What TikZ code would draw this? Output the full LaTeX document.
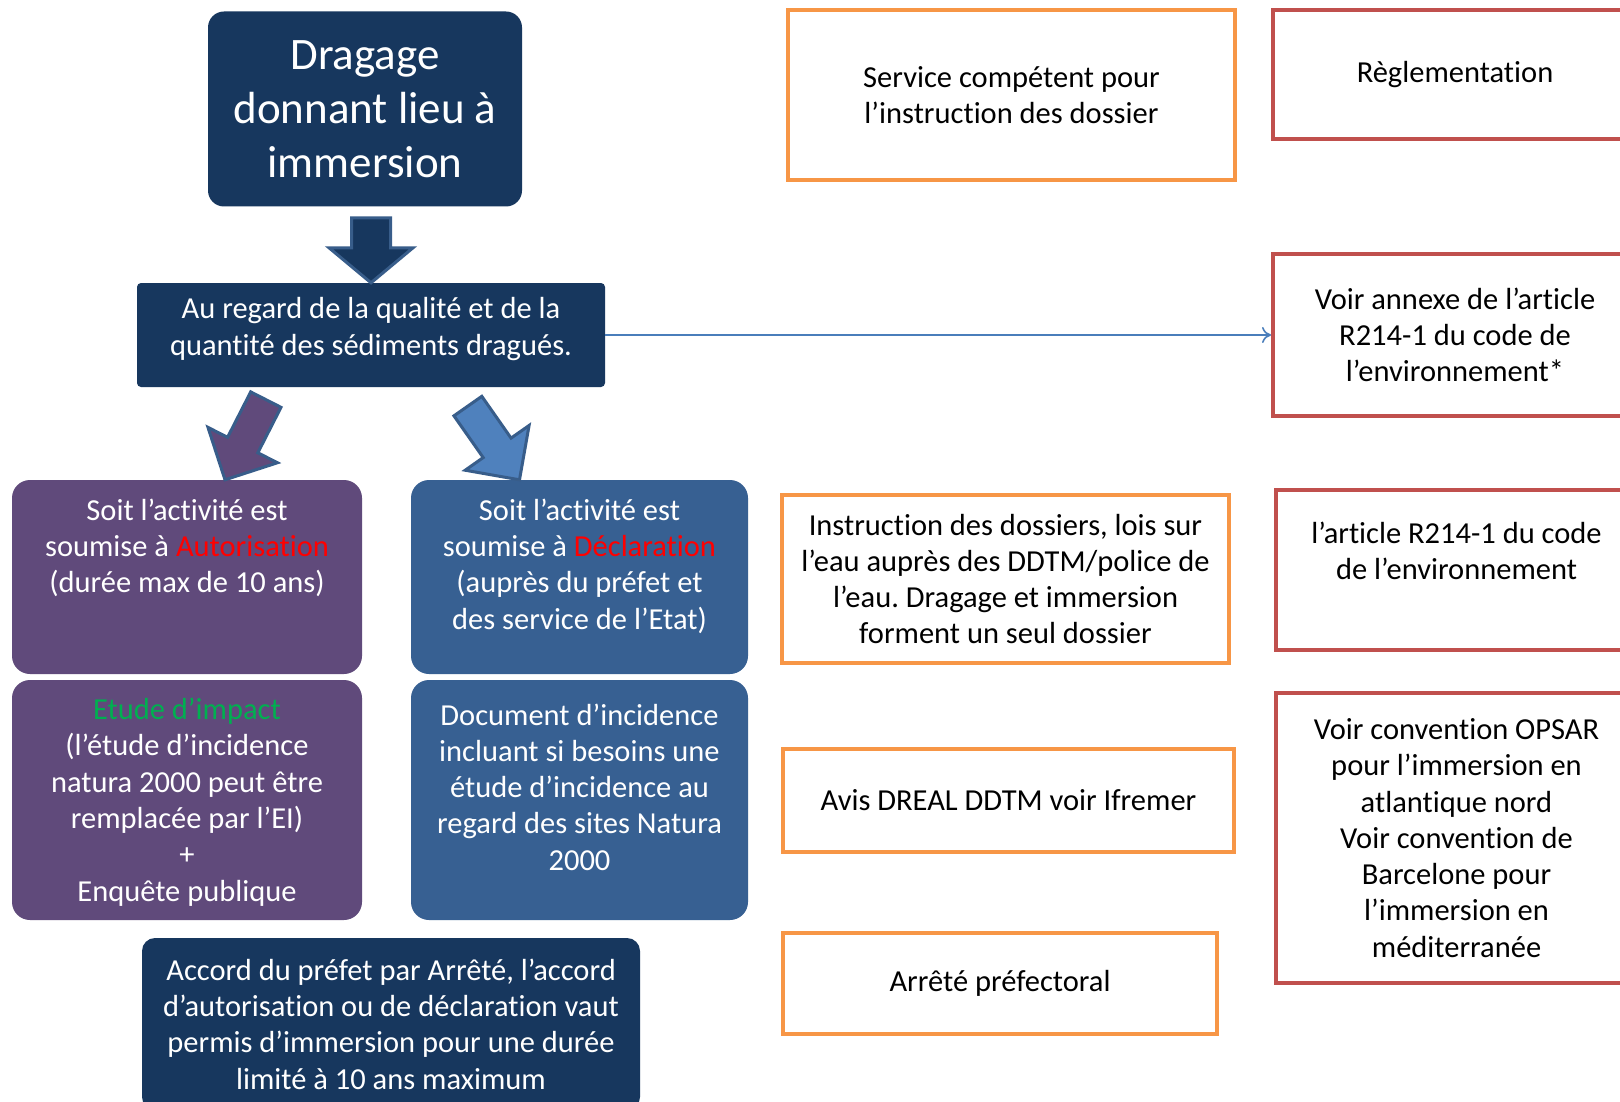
\documentclass[tikz,border=0pt]{standalone}
\usepackage{fontspec}
\setmainfont{Carlito}[Ligatures=NoCommon]
\usepackage{tikz}
\usetikzlibrary{positioning,calc,arrows.meta}
\frenchspacing

\definecolor{navy}{HTML}{17375E}
\definecolor{purp}{HTML}{604A7B}
\definecolor{bluebox}{HTML}{376092}
\definecolor{arrowblue}{HTML}{4F81BD}
\definecolor{arrowedge}{HTML}{385D8A}
\definecolor{orangeline}{HTML}{F79646}
\definecolor{redline}{HTML}{C0504D}
\definecolor{linkblue}{HTML}{4A7EBB}
\definecolor{txtred}{HTML}{FF0000}
\definecolor{txtgreen}{HTML}{00B050}

\begin{document}
\begin{tikzpicture}[x=1pt,y=-1pt,
  txt/.style={align=center,font=\fontsize{30.5}{36.3}\selectfont},
  wtxt/.style={txt,text=white},
  darkbox/.style={wtxt,fill=navy,inner sep=0pt},
  purpbox/.style={wtxt,fill=purp,rounded corners=18pt,inner sep=0pt},
  bluebx/.style={wtxt,fill=bluebox,rounded corners=18pt,inner sep=0pt},
  orangebox/.style={txt,draw=orangeline,line width=4pt,inner sep=0pt},
  redbox/.style={txt,draw=redline,line width=4pt,inner sep=0pt},
  blockarrow/.style={draw=arrowedge,line width=3pt,line join=miter},
  link/.style={draw=linkblue,line width=1.6pt,-{To[length=9pt,width=16pt]}}]
\clip (0,0) rectangle (1620,1102);
\fill[white] (0,0) rectangle (1620,1102);

\node[darkbox,rounded corners=16pt,minimum width=314pt,minimum height=195pt,
  font=\fontsize{45}{54}\selectfont] (drag) at (365,109) {Dragage\\donnant lieu à\\immersion};
\node[darkbox,rounded corners=4pt,minimum width=468pt,minimum height=104pt] (regard) at (371,335) {};
\node[wtxt] at ([yshift=6pt]regard.center) {Au regard de la qualité et de la\\quantité des sédiments dragués.};

\node[purpbox,minimum width=350pt,minimum height=194pt] (aut) at (187,577) {};
\node[wtxt] at ([yshift=29pt]aut.center) {Soit l’activité est\\soumise à \textcolor{txtred}{Autorisation}\\(durée max de 10 ans)};
\node[bluebx,minimum width=337pt,minimum height=194pt] (decl) at (579.5,577) {};
\node[wtxt] at ([yshift=11pt]decl.center) {Soit l’activité est\\soumise à \textcolor{txtred}{Déclaration}\\(auprès du préfet et\\des service de l’Etat)};

\node[purpbox,minimum width=350pt,minimum height=240pt] (etude) at (187,800) {};
\node[wtxt] at ([yshift=-2pt]etude.center) {\textcolor{txtgreen}{Etude d’impact}\\(l’étude d’incidence\\natura 2000 peut être\\remplacée par l’EI)\\+\\Enquête publique};
\node[bluebx,minimum width=337pt,minimum height=240pt] (docinc) at (579.5,800) {};
\node[wtxt] at ([yshift=13pt]docinc.center) {Document d’incidence\\incluant si besoins une\\étude d’incidence au\\regard des sites Natura\\2000};

\node[darkbox,rounded corners=13pt,minimum width=498pt,minimum height=172pt] (accord) at (391,1024) {Accord du préfet par Arrêté, l’accord\\d’autorisation ou de déclaration vaut\\permis d’immersion pour une durée\\limité à 10 ans maximum};

\node[orangebox,minimum width=447pt,minimum height=170pt] (service) at (1011.5,95) {Service compétent pour\\l’instruction des dossier};
\node[orangebox,minimum width=447pt,minimum height=168pt] (instr) at (1005.5,579) {Instruction des dossiers, lois sur\\l’eau auprès des DDTM/police de\\l’eau. Dragage et immersion\\forment un seul dossier};
\node[orangebox,minimum width=451pt,minimum height=103pt] (avis) at (1008.5,800.5) {Avis DREAL DDTM voir Ifremer};
\node[orangebox,minimum width=434pt,minimum height=101pt] (arrete) at (1000,983.5) {Arrêté préfectoral};

\node[redbox,minimum width=364pt,minimum height=129pt] (regl) at (1455,74.5) {Règlementation};
\node[redbox,minimum width=364pt,minimum height=162pt] (annexe) at (1455,335) {Voir annexe de l’article\\R214-1 du code de\\l’environnement*};
\node[redbox,minimum width=361pt,minimum height=160pt] (article) at (1456.5,570) {};
\node[txt] at ([yshift=19pt]article.center) {l’article R214-1 du code\\de l’environnement};
\node[redbox,minimum width=361pt,minimum height=290pt] (opsar) at (1456.5,838) {Voir convention OPSAR\\pour l’immersion en\\atlantique nord\\Voir convention de\\Barcelone pour\\l’immersion en\\méditerranée};

\draw[blockarrow,fill=navy,shift={(regard.north)},rotate=-90]
  (0,0) -- (-35,42) -- (-35,19.5) -- (-65,19.5) -- (-65,-19.5) -- (-35,-19.5) -- (-35,-42) -- cycle;
\draw[blockarrow,fill=purp,shift={([xshift=38pt]aut.north)},rotate=-117]
  (0,0) -- (-39,39) -- (-39,17) -- (-90,17) -- (-90,-17) -- (-39,-17) -- (-39,-39) -- cycle;
\draw[blockarrow,fill=arrowblue,shift={([xshift=-60pt]decl.north)},rotate=-55]
  (0,0) -- (-39,39) -- (-39,17) -- (-90,17) -- (-90,-17) -- (-39,-17) -- (-39,-39) -- cycle;

\draw[link] (regard.east) -- (annexe.west);
\end{tikzpicture}
\end{document}
